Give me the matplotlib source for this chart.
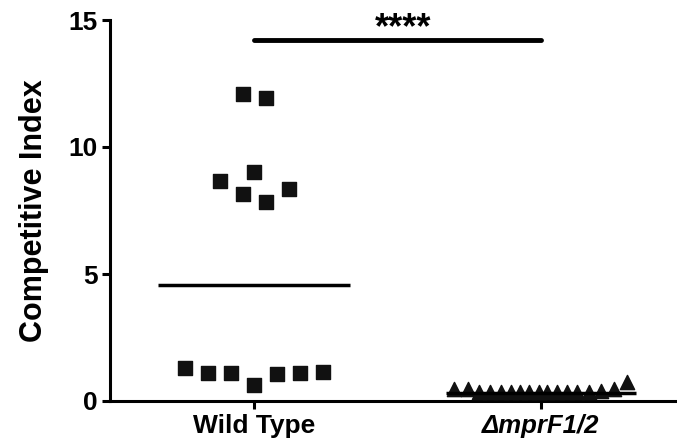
import matplotlib
matplotlib.use("Agg")
import matplotlib.pyplot as plt
import numpy as np

plt.rcParams['font.family'] = ['Liberation Sans', 'DejaVu Sans']
plt.rcParams['font.weight'] = 'bold'

categories = ["Wild Type", "ΔmprF1/2"]
wt_values = [12.09, 11.93, 8.66, 9.02, 8.15, 7.83, 8.35,
             1.30, 1.10, 1.10, 0.63, 1.06, 1.10, 1.14]
wt_offsets = [-0.5, 0.5, -1.5, 0.0, -0.5, 0.5, 1.5,
              -3, -2, -1, 0, 1, 2, 3]
mut_values = [0.47, 0.47, 0.36, 0.35, 0.35, 0.35, 0.35, 0.35, 0.35,
              0.35, 0.35, 0.35, 0.35, 0.36, 0.38, 0.47, 0.75]
mut_offsets = [-87, -73, -62, -51, -40, -30, -21, -12, -2,
               6, 16, 26, 36, 48, 60, 73, 86]
group_means = [4.57, 0.31]
bracket_y = 14.2
significance = "****"

fig = plt.figure(figsize=(6.77, 4.47), dpi=100)
W, H = 677, 447
ax = fig.add_axes([110 / W, (H - 401) / H, (677 - 110) / W, (401 - 20) / H])

px_per_unit = 541 - 254
wt_x = [0 + o * 23 / px_per_unit for o in wt_offsets]
mut_x = [1 + o / px_per_unit for o in mut_offsets]

ax.scatter(wt_x, wt_values, marker='s', s=115, color='#111111', clip_on=False, zorder=3)
ax.scatter(mut_x, mut_values, marker='^', s=105, color='#111111', clip_on=False, zorder=3)

hw = 96 / px_per_unit
ax.hlines(group_means[0], 0 - hw, 0 + hw, color='black', lw=2.5, zorder=4)
ax.hlines(group_means[1], 1 - hw * 0.99, 1 + hw * 0.99, color='black', lw=2.5, zorder=4)

ax.plot([0, 1], [bracket_y, bracket_y], color='black', lw=3.5, solid_capstyle='round', clip_on=False)
ax.text(0.52, bracket_y + 0.08, significance, ha='center', va='baseline', fontsize=26,
        fontweight='bold', clip_on=False)

ax.set_xlim(-(254 - 110) / px_per_unit, (677 - 254) / px_per_unit)
ax.set_ylim(0, 15)
ax.set_yticks([0, 5, 10, 15])
ax.set_xticks([0, 1])
ax.set_xticklabels(categories)
for lab in ax.get_xticklabels():
    lab.set_fontsize(19)
    lab.set_fontweight('bold')
ax.get_xticklabels()[1].set_fontstyle('italic')
ax.get_xticklabels()[1].set_fontsize(18.5)
for lab in ax.get_yticklabels():
    lab.set_fontsize(19)
    lab.set_fontweight('bold')
ax.set_ylabel("Competitive Index", fontsize=22, fontweight='bold', labelpad=14)

for s in ['top', 'right']:
    ax.spines[s].set_visible(False)
for s in ['left', 'bottom']:
    ax.spines[s].set_linewidth(2.2)
ax.tick_params(axis='both', width=2.2, length=6, direction='out', pad=3)

fig.savefig("out.png", dpi=100)
